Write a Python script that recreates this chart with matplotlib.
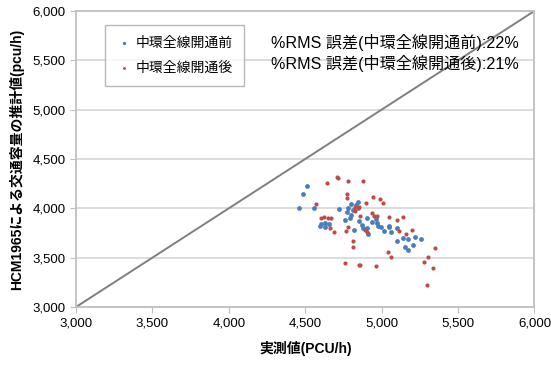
import matplotlib
matplotlib.use("Agg")
import matplotlib.pyplot as plt
from matplotlib.ticker import FuncFormatter, MultipleLocator

# 中環全線開通前 (before)
before_x = [4456, 4511, 4487, 4559, 4722, 4775, 4800, 4790, 4600, 4630, 4656, 4596,
            4630, 4842, 4830, 4845, 4800, 4810, 4906, 4939, 4972, 4994, 4906, 4880,
            5048, 5102, 4820, 4913, 4976, 5048, 5015, 5063, 5098, 5141, 5172, 5218,
            5156, 5172, 5207, 5259, 4760, 4850, 4870, 4780, 4960]
before_y = [4006, 4226, 4145, 4003, 3993, 3960, 3930, 3900, 3840, 3850, 3845, 3824,
            3814, 4061, 4034, 4006, 4040, 3980, 3899, 3865, 3848, 3814, 3797, 3797,
            3821, 3797, 3780, 3740, 3821, 3814, 3773, 3763, 3669, 3696, 3689, 3713,
            3611, 3578, 3628, 3691, 3880, 3870, 3830, 4000, 3890]

# 中環全線開通後 (after)
after_x = [4709, 4715, 4780, 4641, 4771, 4771, 4570, 4605, 4625, 4650, 4670, 4826,
           4826, 4881, 4944, 4989, 5011, 4896, 4852, 4940, 4950, 4970, 5048, 5098,
           5141, 4858, 4661, 4685, 4765, 4783, 4815, 4815, 4759, 4852, 4891, 4902,
           5113, 5157, 5200, 5043, 5059, 4859, 4963, 5350, 5304, 5274, 5339, 5296]
after_y = [4317, 4307, 4277, 4257, 4145, 4104, 4044, 3900, 3910, 3900, 3905, 4013,
           3973, 4281, 4112, 4095, 4057, 4057, 4013, 3950, 3920, 3925, 3915, 3882,
           3915, 3925, 3804, 3763, 3770, 3814, 3669, 3608, 3449, 3426, 3780, 3763,
           3770, 3736, 3780, 3557, 3507, 3426, 3419, 3601, 3504, 3459, 3395, 3223]

label_before = "中環全線開通前"
label_after = "中環全線開通後"
rms_lines = ["%RMS 誤差(中環全線開通前):22%", "%RMS 誤差(中環全線開通後):21%"]

AX_MIN, AX_MAX = 3000, 6000

plt.rcParams["font.family"] = ["Liberation Sans", "Noto Sans CJK JP"]

fig = plt.figure(figsize=(5.51, 3.65), dpi=100)
ax = fig.add_axes([0.138, 0.159, 0.832, 0.811])

ax.plot([AX_MIN, AX_MAX], [AX_MIN, AX_MAX], color="#7f7f7f", linewidth=1.4, zorder=2)
ax.scatter(before_x, before_y, s=12, color="#4a7ebb", label=label_before, zorder=3, linewidths=0)
ax.scatter(after_x, after_y, s=9, color="#be4b48", label=label_after, zorder=3, linewidths=0)

ax.set_xlim(AX_MIN, AX_MAX)
ax.set_ylim(AX_MIN, AX_MAX)
ax.xaxis.set_major_locator(MultipleLocator(500))
ax.yaxis.set_major_locator(MultipleLocator(500))
fmt = FuncFormatter(lambda v, _: f"{int(v):,}")
ax.xaxis.set_major_formatter(fmt)
ax.yaxis.set_major_formatter(fmt)
ax.grid(axis="y", color="#d9d9d9", linewidth=1.3, zorder=0)
for s in ax.spines.values():
    s.set_color("#bfbfbf")
    s.set_linewidth(1.3)
ax.tick_params(colors="#bfbfbf", labelcolor="black", labelsize=9.5, length=4)

ax.set_xlabel("実測値(PCU/h)", fontsize=10, fontweight="bold", labelpad=8)
ax.set_ylabel("HCM1965による交通容量の推計値(pcu/h)", fontsize=10, fontweight="bold", labelpad=6)

leg = ax.legend(loc="upper left", bbox_to_anchor=(0.063, 0.953), fontsize=10,
                frameon=True, fancybox=False, edgecolor="#a6a6a6", borderpad=0.8,
                handlelength=1.2, handletextpad=0.2, markerscale=0.7,
                labelspacing=0.8, borderaxespad=0)
leg.get_frame().set_linewidth(1.0)

ax.text(0.426, 0.892, rms_lines[0], transform=ax.transAxes, fontsize=11.6, va="center")
ax.text(0.426, 0.824, rms_lines[1], transform=ax.transAxes, fontsize=11.6, va="center")

fig.savefig("out.png", dpi=100)
